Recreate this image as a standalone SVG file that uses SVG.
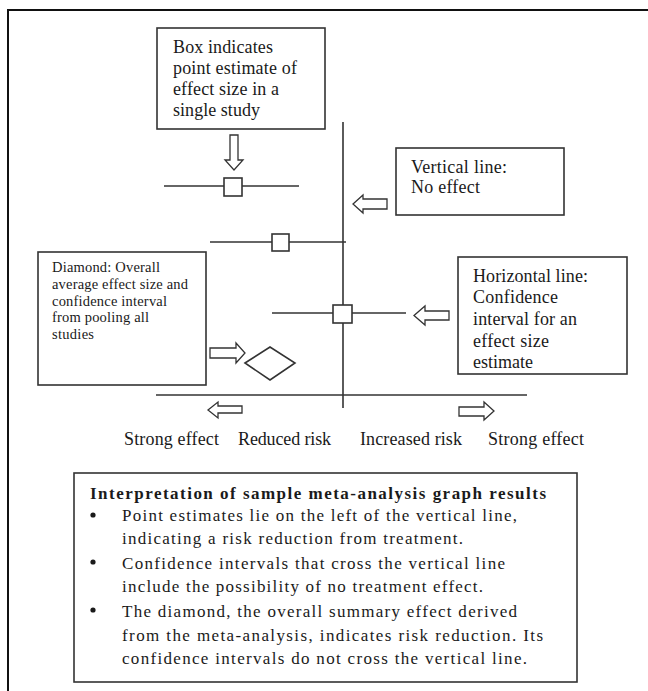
<svg xmlns="http://www.w3.org/2000/svg" width="648" height="691" viewBox="0 0 648 691">
<style>
.bg{fill:#ffffff}
.frame{fill:none;stroke:#111;stroke-width:2}
.box{fill:#ffffff;stroke:#333;stroke-width:1.6}
.ln{fill:none;stroke:#333;stroke-width:1.6}
.arw{fill:#ffffff;stroke:#333;stroke-width:1.3;stroke-linejoin:miter}
.t{font-family:"Liberation Serif","Times New Roman",serif;fill:#1a1a1a}
.t18{font-size:18px}
.t15{font-size:14.5px}
.t17{font-size:17px}
.b{font-weight:bold}
</style>
<rect class="bg" x="0" y="0" width="648" height="691"/>
<path class="frame" d="M8,691 L8,10 L648,10"/>

<g id="connectors">
  <line class="ln" x1="343" y1="122" x2="343" y2="408"/>
  <line class="ln" x1="156" y1="395" x2="527" y2="395"/>
  <line class="ln" x1="164" y1="186" x2="299" y2="186"/>
  <line class="ln" x1="210" y1="242" x2="346" y2="242"/>
  <line class="ln" x1="272" y1="313" x2="406" y2="313"/>
  <polygon class="arw" points="230,135 238,135 238,160 243,160 234,170 225,160 230,160"/>
  <polygon class="arw" points="387,199 363,199 363,195 353,204 363,213 363,209 387,209"/>
  <polygon class="arw" points="449,311 425,311 425,306 414,315.5 425,325 425,320 449,320"/>
  <polygon class="arw" points="210,348 236,348 236,343 245,353 236,363 236,358 210,358"/>
  <polygon class="arw" points="242,406 218,406 218,402 208,410 218,418 218,413 242,413"/>
  <polygon class="arw" points="459,407 484,407 484,402 494,411 484,420 484,416 459,416"/>
</g>

<g id="estimate1"><rect class="box" x="224" y="178" width="18" height="18"/></g>
<g id="estimate2"><rect class="box" x="272" y="234" width="17" height="17"/></g>
<g id="estimate3"><rect class="box" x="333" y="305" width="19" height="18"/></g>
<g id="diamond"><polygon class="box" points="245,363 270,347 295,363 270,380"/></g>

<g id="box-note">
  <rect class="box" x="157" y="28" width="168" height="101"/>
  <text class="t t18" x="173" y="53" textLength="100" lengthAdjust="spacing">Box indicates</text>
  <text class="t t18" x="173" y="74" textLength="124" lengthAdjust="spacing">point estimate of</text>
  <text class="t t18" x="173" y="95" textLength="106" lengthAdjust="spacing">effect size in a</text>
  <text class="t t18" x="173" y="116" textLength="87" lengthAdjust="spacing">single study</text>
</g>

<g id="vertical-note">
  <rect class="box" x="396" y="148" width="168" height="67"/>
  <text class="t t18" x="411" y="173" textLength="96" lengthAdjust="spacing">Vertical line:</text>
  <text class="t t18" x="411" y="193" textLength="69" lengthAdjust="spacing">No effect</text>
</g>

<g id="diamond-note">
  <rect class="box" x="38" y="252" width="168" height="133"/>
  <text class="t t15" x="52" y="272" textLength="108" lengthAdjust="spacing">Diamond: Overall</text>
  <text class="t t15" x="52" y="289" textLength="136" lengthAdjust="spacing">average effect size and</text>
  <text class="t t15" x="52" y="306" textLength="115" lengthAdjust="spacing">confidence interval</text>
  <text class="t t15" x="52" y="322" textLength="97" lengthAdjust="spacing">from pooling all</text>
  <text class="t t15" x="52" y="339" textLength="42" lengthAdjust="spacing">studies</text>
</g>

<g id="horizontal-note">
  <rect class="box" x="458" y="257" width="169" height="117"/>
  <text class="t t18" x="473" y="282" textLength="115" lengthAdjust="spacing">Horizontal line:</text>
  <text class="t t18" x="473" y="303" textLength="85" lengthAdjust="spacing">Confidence</text>
  <text class="t t18" x="473" y="325" textLength="104" lengthAdjust="spacing">interval for an</text>
  <text class="t t18" x="473" y="347" textLength="76" lengthAdjust="spacing">effect size</text>
  <text class="t t18" x="473" y="368" textLength="60" lengthAdjust="spacing">estimate</text>
</g>

<g id="axis-labels">
  <text class="t t18" x="124" y="445" textLength="95" lengthAdjust="spacing">Strong effect</text>
  <text class="t t18" x="238" y="445" textLength="93" lengthAdjust="spacing">Reduced risk</text>
  <text class="t t18" x="360" y="445" textLength="102" lengthAdjust="spacing">Increased risk</text>
  <text class="t t18" x="488" y="445" textLength="96" lengthAdjust="spacing">Strong effect</text>
</g>

<g id="interpretation">
  <rect class="box" x="74" y="473" width="503" height="209"/>
  <text class="t t17 b" x="90" y="499" textLength="456" lengthAdjust="spacing">Interpretation of sample meta-analysis graph results</text>
  <circle cx="93" cy="515" r="2.6" fill="#1a1a1a"/>
  <circle cx="93" cy="562" r="2.6" fill="#1a1a1a"/>
  <circle cx="93" cy="610" r="2.6" fill="#1a1a1a"/>
  <text class="t t17" x="122" y="521" textLength="395" lengthAdjust="spacing">Point estimates lie on the left of the vertical line,</text>
  <text class="t t17" x="122" y="544" textLength="341" lengthAdjust="spacing">indicating a risk reduction from treatment.</text>
  <text class="t t17" x="122" y="569" textLength="383" lengthAdjust="spacing">Confidence intervals that cross the vertical line</text>
  <text class="t t17" x="122" y="592" textLength="361" lengthAdjust="spacing">include the possibility of no treatment effect.</text>
  <text class="t t17" x="122" y="617" textLength="395" lengthAdjust="spacing">The diamond, the overall summary effect derived</text>
  <text class="t t17" x="122" y="641" textLength="421" lengthAdjust="spacing">from the meta-analysis, indicates risk reduction. Its</text>
  <text class="t t17" x="122" y="664" textLength="405" lengthAdjust="spacing">confidence intervals do not cross the vertical line.</text>
</g>
</svg>
